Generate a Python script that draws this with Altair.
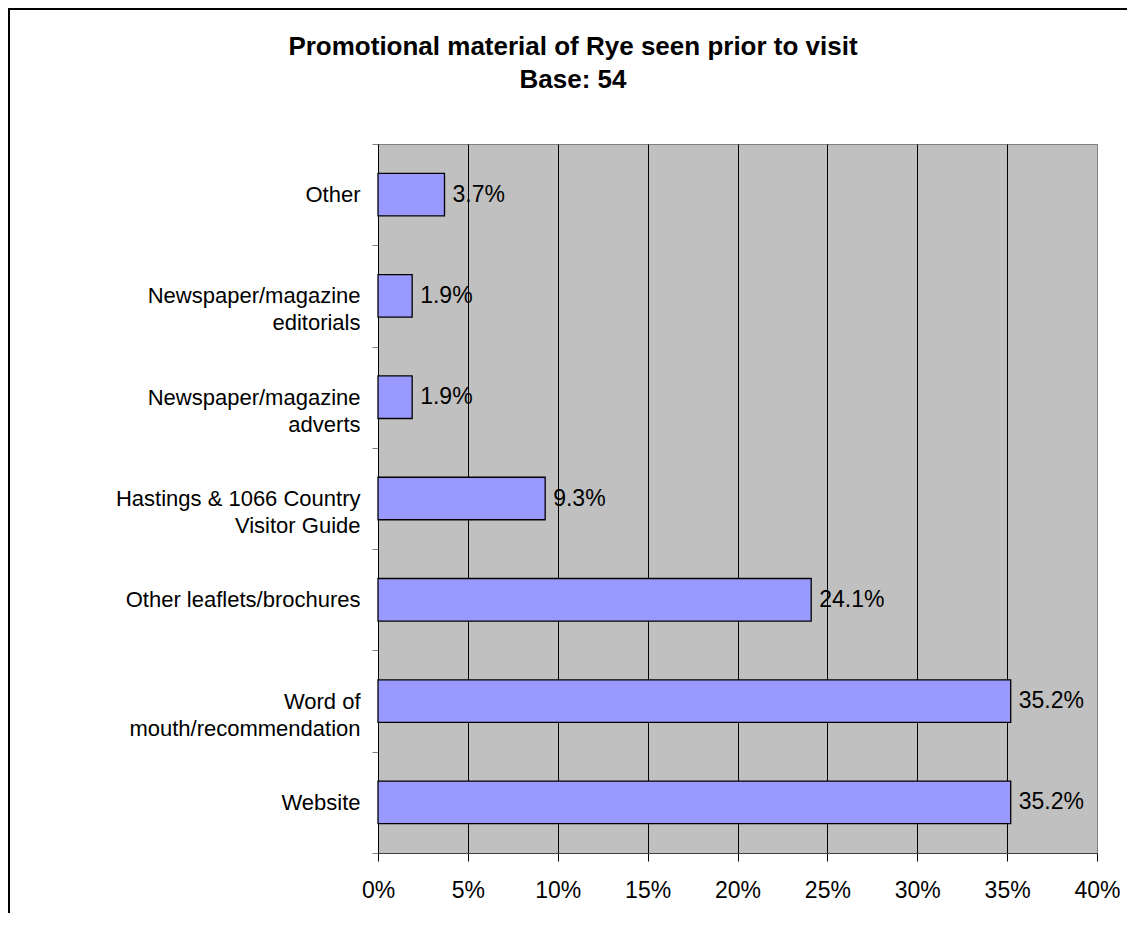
import altair as alt
import pandas as pd

# ---- data ----
categories = [
    "Other",
    "Newspaper/magazine|editorials",
    "Newspaper/magazine|adverts",
    "Hastings & 1066 Country|Visitor Guide",
    "Other leaflets/brochures",
    "Word of|mouth/recommendation",
    "Website",
]
shares = [0.037, 0.019, 0.019, 0.093, 0.241, 0.352, 0.352]
x_ticks = [0, 0.05, 0.10, 0.15, 0.20, 0.25, 0.30, 0.35, 0.40]
title_lines = ["Promotional material of Rye seen prior to visit", "Base: 54"]

df = pd.DataFrame({"category": categories, "share": shares})
frame_df = pd.DataFrame({"frame": [0]})
title1_df = pd.DataFrame({"t": [title_lines[0]]})
title2_df = pd.DataFrame({"t": [title_lines[1]]})

FONT = "Liberation Sans"

y_enc = alt.Y(
    "category:N",
    sort=categories,
    title=None,
    scale=alt.Scale(paddingInner=0, paddingOuter=0),
    axis=alt.Axis(
        labelExpr="split(datum.label, '|')",
        labelFont=FONT,
        labelFontSize=22,
        labelColor="black",
        labelPadding=12,
        labelLineHeight=27,
        labelLimit=0,
        tickBand="extent",
        tickSize=6,
        tickColor="#808080",
        domainColor="black",
        domainWidth=1,
        grid=False,
    ),
)

x_enc = alt.X(
    "share:Q",
    title=None,
    scale=alt.Scale(domain=[0, 0.4], nice=False, zero=True),
    axis=alt.Axis(
        values=x_ticks,
        format=".0%",
        labelFont=FONT,
        labelFontSize=23,
        labelColor="black",
        labelPadding=18,
        labelFlush=False,
        labelOverlap=False,
        tickSize=8,
        tickColor="black",
        domainColor="#404040",
        grid=True,
        gridColor={"condition": {"test": "datum.value >= 0.4", "value": "#808080"}, "value": "black"},
        gridWidth=1,
        gridOpacity=1,
    ),
)

bars = alt.Chart(df).mark_bar(
    color="#9999FF", stroke="black", strokeWidth=1.3,
    height=alt.RelativeBandSize(0.42),
).encode(x=x_enc, y=y_enc)

labels = alt.Chart(df).mark_text(
    align="left", baseline="middle", dx=8, font=FONT, fontSize=23, color="black"
).encode(
    x=alt.X("share:Q"),
    y=alt.Y("category:N", sort=categories),
    text=alt.Text("share:Q", format=".1%"),
)

title1 = alt.Chart(title1_df).mark_text(
    align="center", baseline="alphabetic", font=FONT, fontSize=26,
    fontWeight="bold", color="black",
).encode(x=alt.value(195), y=alt.value(-89), text="t:N")

title2 = alt.Chart(title2_df).mark_text(
    align="center", baseline="alphabetic", font=FONT, fontSize=26,
    fontWeight="bold", color="black",
).encode(x=alt.value(195), y=alt.value(-56), text="t:N")

frame = alt.Chart(frame_df).mark_rect(
    fillOpacity=0, stroke="black", strokeWidth=2
).encode(
    x=alt.value(-369), x2=alt.value(1000), y=alt.value(-135), y2=alt.value(1000)
)

chart = (
    alt.layer(bars, labels, title1, title2, frame)
    .properties(
        width=719,
        height=709,
        autosize=alt.AutoSizeParams(type="none"),
        padding={"left": 370, "top": 136, "right": 30, "bottom": 60},
        background="white",
    )
    .configure_view(fill="#C0C0C0", stroke="#808080", strokeWidth=1)
)

chart.save("out.html", embed_options={"renderer": "svg", "actions": False})
